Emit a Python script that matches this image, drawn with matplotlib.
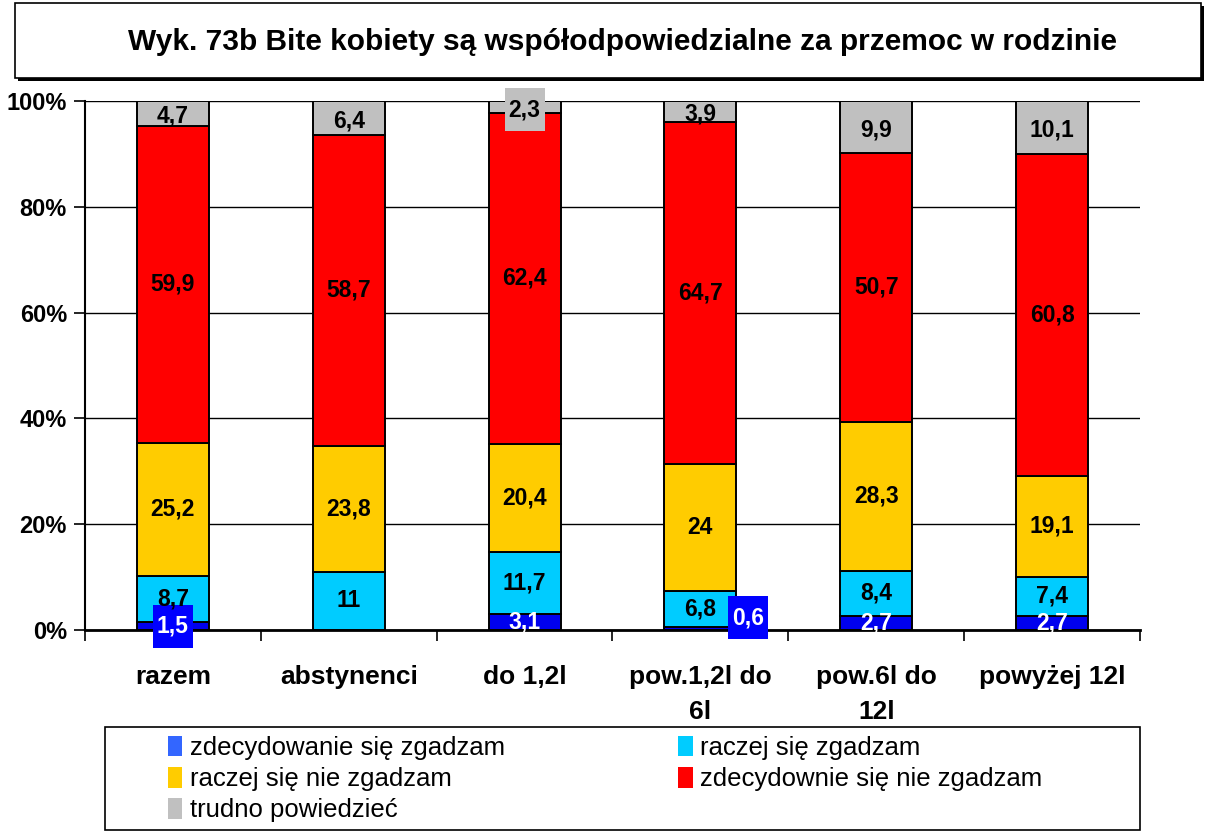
import matplotlib.pyplot as plt
import numpy as np
from matplotlib.patches import Patch, Rectangle

plt.rcParams["font.family"] = ["Liberation Sans", "DejaVu Sans"]

categories = ["razem", "abstynenci", "do 1,2l", "pow.1,2l do\n6l", "pow.6l do\n12l", "powyżej 12l"]
series_names = [
    "zdecydowanie się zgadzam",
    "raczej się zgadzam",
    "raczej się nie zgadzam",
    "zdecydownie się nie zgadzam",
    "trudno powiedzieć",
]
zdecydowanie_tak = [1.5, 0.0, 3.1, 0.6, 2.7, 2.7]
raczej_tak = [8.7, 11.0, 11.7, 6.8, 8.4, 7.4]
raczej_nie = [25.2, 23.8, 20.4, 24.0, 28.3, 19.1]
zdecydowanie_nie = [59.9, 58.7, 62.4, 64.7, 50.7, 60.8]
trudno = [4.7, 6.4, 2.3, 3.9, 9.9, 10.1]

bar_colors = ["#0000EE", "#00CCFF", "#FFCC00", "#FF0000", "#C0C0C0"]
legend_colors = ["#3366FF", "#00CCFF", "#FFCC00", "#FF0000", "#C0C0C0"]
box_colors = {0: "#0000FF", 4: "#C0C0C0"}

values = np.array([zdecydowanie_tak, raczej_tak, raczej_nie, zdecydowanie_nie, trudno])
shares = values / values.sum(axis=0) * 100  # 100% stacked

W, H = 1207, 831
fig = plt.figure(figsize=(W / 100, H / 100), dpi=100)
ax = fig.add_axes([85 / W, 201 / H, 1055 / W, 529 / H])

ax.set_xlim(-0.5, len(categories) - 0.5)
ax.set_ylim(0, 100)
# label box size (about 40 x 43 px) in data units
box_w = 40 / 1055 * len(categories)
box_h = 43 / 529 * 100

x = np.arange(len(categories))
bottom = np.zeros(len(categories))
for i, (name, color) in enumerate(zip(series_names, bar_colors)):
    ax.bar(x, shares[i], 0.41, bottom=bottom, color=color,
           edgecolor="black", linewidth=1.4, zorder=3)
    text_color = "white" if i == 0 else "black"
    for j in range(len(categories)):
        if values[i, j] == 0:
            continue
        label = f"{values[i, j]:g}".replace(".", ",")
        cx, cy = x[j], bottom[j] + shares[i, j] / 2
        if i == 4:
            cy -= 0.5
        if i in box_colors and values[i, j] < 2.5:
            # thin segments get a boxed label; the thinnest one is moved aside
            if values[i, j] < 1:
                cx, cy = x[j] + 0.27, 2.3
            ax.add_patch(Rectangle((cx - box_w / 2, cy - box_h / 2), box_w, box_h,
                                   facecolor=box_colors[i], edgecolor="none",
                                   zorder=5, clip_on=False))
        ax.text(cx, cy, label, ha="center", va="center", color=text_color,
                fontsize=16.5, fontweight="bold", zorder=6)
    bottom += shares[i]

ax.set_yticks(np.arange(0, 101, 20))
ax.set_yticklabels([f"{v}%" for v in range(0, 101, 20)], fontsize=17, fontweight="bold")
ax.yaxis.grid(True, color="black", linewidth=1.0, zorder=0)
ax.tick_params(axis="y", length=8, width=1.2, pad=5)

ax.set_xticks(x)
ax.set_xticklabels(categories, fontsize=19, fontweight="bold", linespacing=1.6)
ax.set_xticks(np.arange(-0.5, len(categories)), minor=True)
ax.tick_params(axis="x", which="major", length=0, pad=25)
ax.tick_params(axis="x", which="minor", length=8, width=1.2)

for side in ("top", "right"):
    ax.spines[side].set_visible(False)
ax.spines["left"].set_linewidth(1.5)
ax.spines["bottom"].set_linewidth(2)
ax.spines["bottom"].set_zorder(4)

# title box with a drop shadow
fig.patches.append(Rectangle((18 / W, 1 - 81 / H), 1186 / W, 75 / H,
                             transform=fig.transFigure, facecolor="black",
                             edgecolor="none", zorder=0))
fig.patches.append(Rectangle((15 / W, 1 - 78 / H), 1186 / W, 75 / H,
                             transform=fig.transFigure, facecolor="white",
                             edgecolor="black", linewidth=1.2, zorder=1))
fig.text(622 / W, 1 - 42 / H, "Wyk. 73b Bite kobiety są współodpowiedzialne za przemoc w rodzinie",
         ha="center", va="center", fontsize=21.5, fontweight="bold", zorder=2)

# legend
fig.patches.append(Rectangle((105 / W, 1 - 830 / H), 1035 / W, 103 / H,
                             transform=fig.transFigure, facecolor="white",
                             edgecolor="black", linewidth=1.2, zorder=0))
handles = [Patch(facecolor=c, edgecolor="none") for c in legend_colors]
order = [0, 2, 4, 1, 3]
fig.legend([handles[k] for k in order], [series_names[k] for k in order],
           ncol=2, loc="upper left", bbox_to_anchor=(168 / W, 1 - 736 / H),
           frameon=False, fontsize=18.5, handlelength=0.55, handleheight=0.85,
           handletextpad=0.3, columnspacing=6.75, labelspacing=0.27,
           borderaxespad=0, borderpad=0)

fig.savefig("out.png", dpi=100)
